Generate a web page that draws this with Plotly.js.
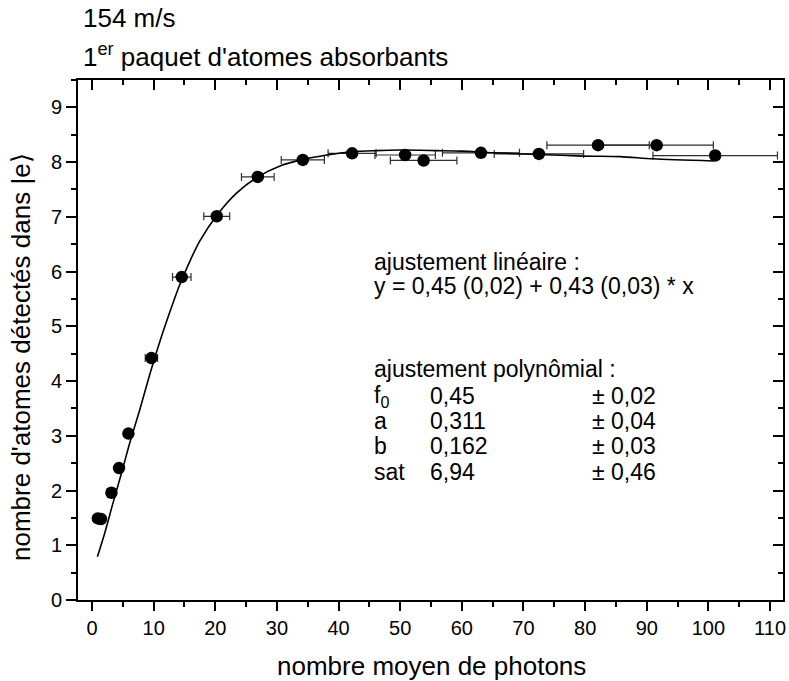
<!DOCTYPE html>
<html>
<head>
<meta charset="utf-8">
<script src="https://cdn.plot.ly/plotly-3.0.1.min.js"></script>
<style>html,body{margin:0;padding:0;background:#fff;}#chart{width:789px;height:681px;}</style>
</head>
<body>
<div id="chart"></div>
<script>
// Measured data points
const photons = [0.95, 1.45, 3.15, 4.38, 5.91, 9.64, 14.56, 20.24, 26.9, 34.2, 42.2, 50.8, 53.8, 63.1, 72.5, 82.1, 91.6, 101.1];
const atoms   = [1.49, 1.48, 1.96, 2.41, 3.04, 4.42, 5.90, 7.01, 7.73, 8.04, 8.16, 8.13, 8.03, 8.17, 8.15, 8.31, 8.31, 8.12];
const photonsErr = [0.1, 0.15, 0.3, 0.45, 0.6, 1.0, 1.5, 2.1, 2.65, 3.5, 3.9, 4.9, 5.4, 6.25, 7.25, 8.3, 9.2, 10.1];

// Fit curve
const fitX = [0.88, 2.06, 3.4, 4.77, 6.1, 7.74, 9.37, 11.0, 12.5, 14.2, 16.0, 17.5, 20.2, 23.4, 26.9, 30.5, 34.3, 38.1, 42.2, 46, 50, 55.9, 60, 65.1, 72.5, 79.7, 85.7, 91, 100.8];
const fitY = [0.79, 1.22, 1.77, 2.31, 2.86, 3.47, 4.12, 4.72, 5.22, 5.75, 6.22, 6.56, 7.02, 7.43, 7.73, 7.93, 8.05, 8.13, 8.19, 8.21, 8.22, 8.21, 8.2, 8.17, 8.14, 8.11, 8.10, 8.06, 8.02];

const titleLines = ["154 m/s", "1<sup>er</sup> paquet d'atomes absorbants"];
const xTitle = "nombre moyen de photons";
const yTitle = "nombre d'atomes détectés dans |e⟩";
const fitLinText = ["ajustement linéaire :", "y = 0,45 (0,02) + 0,43 (0,03) * x"];
const fitPolyHeader = "ajustement polynômial :";
const paramNames = ["f<sub>0</sub>", "a", "b", "sat"];
const paramValues = ["0,45", "0,311", "0,162", "6,94"];
const paramErrors = ["± 0,02", "± 0,04", "± 0,03", "± 0,46"];

// layout geometry (pixels)
const L = 78, R = 6, T = 80, B = 81, W = 789, H = 681;
const PW = W - L - R, PH = H - T - B;
const px = p => (p - L) / PW;
const py = p => (H - B - p) / PH;
const FONT = "Liberation Sans, Arial, sans-serif";

const traces = [
  {
    x: photons, y: atoms, type: 'scatter', mode: 'markers',
    marker: {color: '#000', size: 12.5},
    error_x: {type: 'data', array: photonsErr, visible: true, color: '#2e2e2e', thickness: 1.2, width: 4},
    showlegend: false, hoverinfo: 'skip'
  },
  {
    x: fitX, y: fitY, type: 'scatter', mode: 'lines',
    line: {color: '#000', width: 1.6, shape: 'spline', smoothing: 0.8},
    showlegend: false, hoverinfo: 'skip'
  },
  { x: [null], y: [null], xaxis: 'x2', yaxis: 'y2', type: 'scatter', mode: 'markers', showlegend: false, hoverinfo: 'skip' }
];

const annotations = [];
function ann(text, xp, yp, opts) {
  annotations.push(Object.assign({
    text: text, xref: 'paper', yref: 'paper', x: px(xp), y: py(yp),
    xanchor: 'left', yanchor: 'middle', showarrow: false,
    font: {family: FONT, size: 23, color: '#000'}
  }, opts || {}));
}
ann(titleLines[0], 81, 18.5, {font: {family: FONT, size: 26, color: '#000'}});
ann(titleLines[1], 81, 56, {font: {family: FONT, size: 26, color: '#000'}});
ann(xTitle, 431.7, 666, {xanchor: 'center', font: {family: FONT, size: 26, color: '#000'}});
ann(yTitle, 21, 357, {xanchor: 'center', textangle: -90, font: {family: FONT, size: 26, color: '#000'}});
ann(fitLinText[0], 371.5, 262);
ann(fitLinText[1], 371.5, 286);
ann(fitPolyHeader, 371.5, 369);
const rows = [396, 421, 446, 472];
for (let i = 0; i < paramNames.length; i++) {
  ann(paramNames[i], 371.5, rows[i]);
  ann(paramValues[i], 428.3, rows[i]);
  ann(paramErrors[i], 590, rows[i]);
}

const xr = [-2.27, 112.1], yr = [0, 9.5];
const layout = {
  width: W, height: H,
  margin: {l: L, r: R, t: T, b: B, pad: 0},
  paper_bgcolor: '#fff', plot_bgcolor: '#fff',
  font: {family: FONT, color: '#000'},
  xaxis: {
    range: xr, tick0: 0, dtick: 10, ticks: 'outside', ticklen: 9, tickwidth: 2, tickcolor: '#000',
    showline: true, linewidth: 2, linecolor: '#000', showgrid: false, zeroline: false,
    tickfont: {family: FONT, size: 20, color: '#000'},
    minor: {dtick: 5, ticks: 'outside', ticklen: 5, tickwidth: 2, tickcolor: '#000'}
  },
  yaxis: {
    range: yr, tick0: 0, dtick: 1, ticks: 'outside', ticklen: 10, tickwidth: 2, tickcolor: '#000',
    showline: true, linewidth: 2, linecolor: '#000', showgrid: false, zeroline: false,
    tickfont: {family: FONT, size: 20, color: '#000'},
    minor: {dtick: 0.5, ticks: 'outside', ticklen: 5, tickwidth: 2, tickcolor: '#000'}
  },
  xaxis2: {
    overlaying: 'x', side: 'top', range: xr, tick0: 0, dtick: 10, ticks: 'inside', ticklen: 10, tickwidth: 2,
    tickcolor: '#000', showline: true, linewidth: 2, linecolor: '#000', showgrid: false, zeroline: false,
    showticklabels: false,
    minor: {dtick: 5, ticks: 'inside', ticklen: 5, tickwidth: 2, tickcolor: '#000'}
  },
  yaxis2: {
    overlaying: 'y', side: 'right', range: yr, tick0: 0, dtick: 1, ticks: 'inside', ticklen: 10, tickwidth: 2,
    tickcolor: '#000', showline: true, linewidth: 2, linecolor: '#000', showgrid: false, zeroline: false,
    showticklabels: false,
    minor: {dtick: 0.5, ticks: 'inside', ticklen: 5, tickwidth: 2, tickcolor: '#000'}
  },
  annotations: annotations
};

Plotly.newPlot('chart', traces, layout, {staticPlot: true, displayModeBar: false});
</script>
</body>
</html>
